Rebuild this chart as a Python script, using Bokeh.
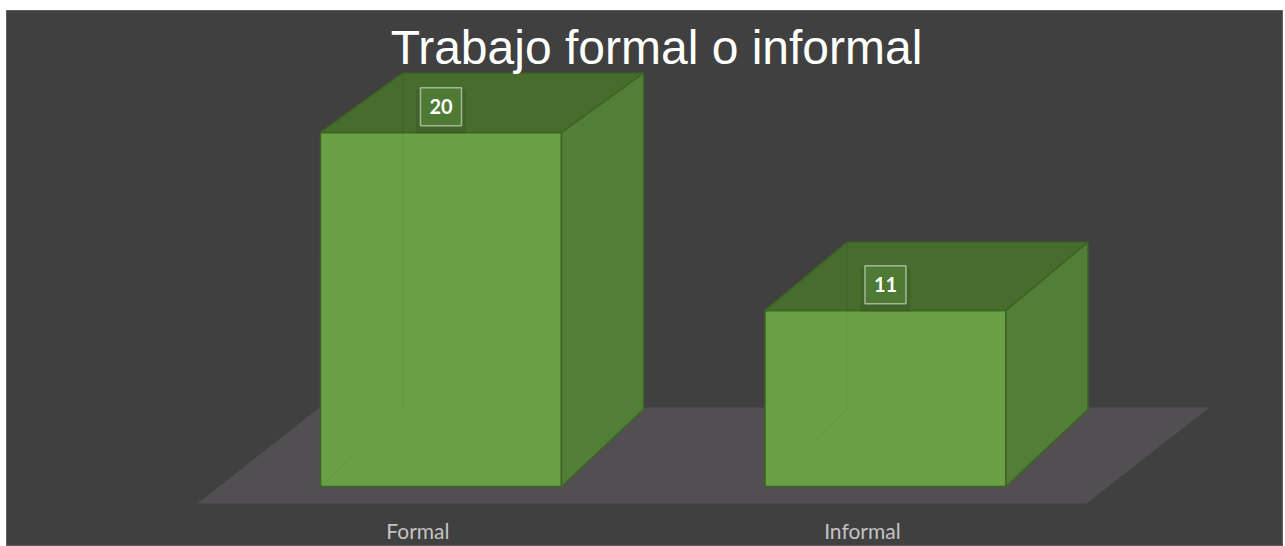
from bokeh.plotting import figure
from bokeh.models import Range1d, Label
from bokeh.core.properties import value
from bokeh.embed import file_html
from bokeh.resources import INLINE

# ---- data ----
categories = ["Formal", "Informal"]
counts = [20, 11]
title_text = "Trabajo formal o informal"

# ---- projection parameters (3D look) ----
BASE = 2.1          # axis floor value
HALF = 0.271        # half bar width (category units)
DX = 0.1845         # depth shift in x (category units)


def back(v):
    # value coordinate of the back edge for a front value v (perspective)
    return 0.95 * v + 4.0


BG = "#404040"
FRONT = "#6aa045"
TOP = "#476c2e"
SIDE = "#527e38"
EDGE = "#3d6522"
FLOOR = "#514f51"

W, H = 1277, 536
p = figure(width=W, height=H, output_backend="svg", toolbar_location=None,
           x_range=Range1d(-0.9775, 1.8954), y_range=Range1d(-0.93, 26.17),
           x_axis_type=None, y_axis_type=None, min_border=0,
           background_fill_color=BG, border_fill_color=BG)
p.grid.visible = False
p.outline_line_color = "#606060"
p.styles = {"position": "absolute", "left": "6px", "top": "10px"}

# floor
n = len(categories)
fx0, fx1 = -0.5478, n - 0.5478
bx0, bx1 = -0.2733, n - 0.2711
fy, by = 1.242, 6.096
p.patch([fx0, fx1, bx1, bx0], [fy, fy, by, by], fill_color=FLOOR, line_color=None)

# bars
for i, v in enumerate(counts):
    xl, xr = i - HALF, i + HALF
    # front face
    p.patch([xl, xr, xr, xl], [BASE, BASE, v, v],
            fill_color=FRONT, line_color=EDGE, line_width=1.5)
    # top face
    p.patch([xl, xr, xr + DX, xl + DX], [v, v, back(v), back(v)],
            fill_color=TOP, line_color=EDGE, line_width=1.5)
    # side face
    p.patch([xr, xr + DX, xr + DX, xr], [BASE, back(BASE), back(v), v],
            fill_color=SIDE, line_color=EDGE, line_width=1.5)
    # faint hidden edges (semi-transparent look)
    p.line([xl + DX, xl + DX], [back(BASE), back(v)], line_color="#000000",
           line_alpha=0.08, line_width=1)
    p.line([xl, xl + DX], [BASE, back(BASE)], line_color="#000000",
           line_alpha=0.06, line_width=1)

# value labels
lab_x = list(range(n))
lab_y = [v + 1.3 for v in counts]
p.rect(lab_x, [y - 0.25 for y in lab_y], width=50, height=44, width_units="screen",
       height_units="screen", fill_color="#2f4a1e", fill_alpha=0.25, line_color=None)
p.rect(lab_x, lab_y, width=41, height=38, width_units="screen", height_units="screen",
       fill_color="#4e7a34", line_color="#a3b795", line_width=1.5)
p.text(lab_x, lab_y, text=[str(v) for v in counts], text_color="white",
       text_font=value("Lato"), text_font_style="bold", text_font_size="20px",
       text_align="center", text_baseline="middle")

# category labels
p.text([i - 0.052 for i in range(n)], [-0.12] * n, text=categories,
       text_color="#c4c4c4", text_font=value("Lato"), text_font_size="21px",
       text_align="center", text_baseline="middle")

# title
p.add_layout(Label(x=650, y=H - 37, x_units="screen", y_units="screen",
                   text=title_text, text_color="white",
                   text_font="Liberation Sans", text_font_size="48px",
                   text_align="center", text_baseline="middle"))

open("out.html", "w").write(file_html(p, INLINE))
